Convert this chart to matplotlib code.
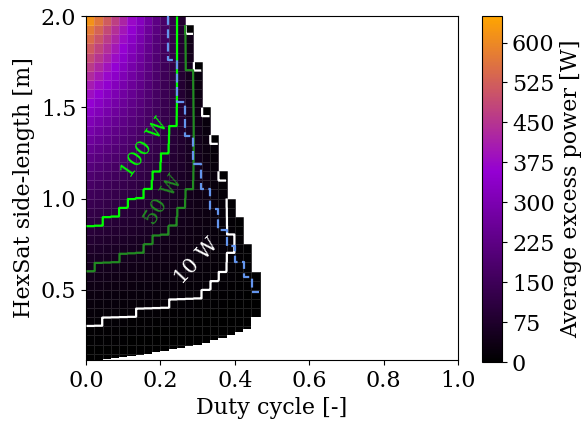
import numpy as np
import matplotlib
matplotlib.use('Agg')
import matplotlib.pyplot as plt
from matplotlib.colors import LinearSegmentedColormap, Normalize

plt.rcParams['font.family'] = 'DejaVu Serif'
plt.rcParams['mathtext.fontset'] = 'dejavuserif'

# grid edges: duty cycle steps of 1/45, side length bands of 0.05 m
duty_edges = np.arange(22) / 45.0
length_edges = np.round(np.arange(0.10, 2.0001, 0.05), 3)

# average excess power [W], one list per side-length band (bottom to top),
# starting at duty cycle 0; cells beyond the list end are not feasible
excess_power = [
    [0.5, 0.4, 0.4, 0.3, 0.3, 0.3, 0.3, 0.2, 0.2, 0.2, 0.2, 0.2, 0.2, 0.2, 0.2, 0.2, 0.2, 0.2, 0.2, 0.2, 0.2],
    [1.8, 1.6, 1.5, 1.3, 1.1, 1.0, 0.8, 0.6, 0.5, 0.3, 0.2, 0.2, 0.2, 0.2, 0.2, 0.2, 0.2, 0.2, 0.2, 0.2, 0.2],
    [4.0, 3.7, 3.3, 2.9, 2.6, 2.2, 1.9, 1.5, 1.2, 0.8, 0.4, 0.2, 0.2, 0.2, 0.2, 0.2, 0.2, 0.2, 0.2, 0.2, 0.2],
    [7.0, 6.4, 5.9, 5.3, 4.7, 4.1, 3.5, 3.0, 2.4, 1.8, 1.2, 0.6, 0.2, 0.2, 0.2, 0.2, 0.2, 0.2, 0.2, 0.2, 0.2],
    [10.9, 10.1, 9.3, 8.6, 7.8, 7.0, 6.2, 5.4, 4.6, 3.8, 3.1, 2.3, 1.5, 0.7, 0.2, 0.2, 0.2, 0.2, 0.2, 0.2, 0.2],
    [15.7, 14.8, 13.8, 12.9, 11.9, 11.0, 10.0, 9.1, 8.1, 7.2, 6.2, 5.3, 4.4, 3.4, 2.5, 1.5, 0.6, 0.2, 0.2, 0.2, 0.2],
    [21.3, 20.2, 19.1, 17.9, 16.8, 15.7, 14.5, 13.4, 12.3, 11.2, 10.0, 8.9, 7.8, 6.6, 5.5, 4.4, 3.3, 2.1, 1.0, 0.2, 0.2],
    [27.8, 26.5, 25.1, 23.8, 22.4, 21.1, 19.7, 18.4, 17.0, 15.7, 14.4, 13.0, 11.7, 10.3, 9.0, 7.6, 6.3, 4.9, 3.6, 2.3, 0.9],
    [35.2, 33.5, 31.8, 30.1, 28.4, 26.8, 25.1, 23.4, 21.7, 20.0, 18.3, 16.6, 15.0, 13.3, 11.6, 9.9, 8.2, 6.5, 4.9, 3.2, 1.5],
    [43.4, 41.3, 39.2, 37.1, 35.0, 32.9, 30.8, 28.7, 26.6, 24.5, 22.4, 20.3, 18.2, 16.2, 14.1, 12.0, 9.9, 7.8, 5.7, 3.6, 1.5],
    [52.3, 49.7, 47.2, 44.6, 42.0, 39.5, 36.9, 34.3, 31.7, 29.2, 26.6, 24.0, 21.4, 18.9, 16.3, 13.7, 11.2, 8.6, 6.0, 3.4],
    [62.1, 59.0, 55.9, 52.8, 49.7, 46.6, 43.5, 40.4, 37.3, 34.2, 31.1, 28.0, 24.9, 21.8, 18.6, 15.5, 12.4, 9.3, 6.2, 3.1],
    [72.8, 69.1, 65.4, 61.7, 58.0, 54.3, 50.6, 47.0, 43.3, 39.6, 35.9, 32.2, 28.5, 24.8, 21.2, 17.5, 13.8, 10.1, 6.4, 2.7],
    [84.3, 80.0, 75.6, 71.3, 66.9, 62.6, 58.2, 53.9, 49.5, 45.2, 40.8, 36.4, 32.1, 27.7, 23.4, 19.0, 14.7, 10.3, 6.0],
    [96.7, 91.6, 86.5, 81.4, 76.3, 71.2, 66.1, 61.0, 55.9, 50.8, 45.7, 40.6, 35.5, 30.4, 25.3, 20.2, 15.1, 10.0, 4.9],
    [110, 104, 98, 92, 86, 80, 74, 68, 62.5, 56.6, 50.6, 44.7, 38.8, 32.9, 27.0, 21.1, 15.1, 9.2, 3.3],
    [124, 117, 110, 103, 97, 90, 83, 76, 69, 62.6, 55.8, 49.0, 42.2, 35.4, 28.6, 21.8, 15.0, 8.2],
    [139, 131, 123, 115, 108, 100, 92, 84, 76, 69, 61, 53, 45, 38, 30, 22.1, 14.3, 6.5],
    [154, 146, 137, 128, 119, 110, 101, 93, 84, 75, 66, 57, 48, 40, 31, 21.8, 13.0],
    [171, 161, 151, 141, 131, 121, 111, 101, 91, 81, 71, 61, 51, 41, 31, 21.5, 11.5],
    [188, 177, 166, 155, 143, 132, 121, 110, 99, 88, 76, 65, 54, 43, 32, 20.6, 5.0],
    [206, 194, 181, 169, 156, 144, 131, 119, 106, 94, 81, 69, 56, 44, 31, 18.7],
    [225, 211, 197, 184, 170, 156, 142, 128, 114, 100, 86, 72, 58, 45, 31, 16.7],
    [245, 230, 214, 199, 183, 168, 152, 137, 122, 106, 91, 75, 60, 45, 29, 13.7],
    [266, 249, 232, 215, 198, 181, 164, 147, 130, 113, 96, 79, 62, 45, 28, 5.0],
    [287, 268, 250, 231, 212, 194, 175, 156, 137, 119, 100, 81, 63, 44, 25],
    [309, 289, 268, 248, 227, 207, 186, 166, 145, 125, 104, 84, 63, 43, 22],
    [332, 310, 287, 265, 242, 220, 197, 175, 152, 130, 107, 85, 62, 40, 5.0],
    [356, 332, 307, 282, 258, 233, 209, 184, 160, 135, 111, 86, 61, 37],
    [381, 354, 327, 300, 274, 247, 220, 193, 167, 140, 113, 86, 60, 33],
    [406, 377, 348, 319, 290, 261, 232, 203, 173, 144, 115, 86, 57, 28],
    [433, 401, 370, 338, 307, 275, 244, 212, 181, 149, 118, 86, 55, 23],
    [460, 425, 391, 357, 323, 289, 255, 221, 187, 152, 118, 84, 50, 5.0],
    [488, 451, 414, 377, 341, 304, 267, 231, 194, 157, 121, 84, 47],
    [516, 477, 437, 398, 359, 319, 280, 240, 201, 162, 122, 83, 44],
    [546, 504, 461, 419, 377, 335, 292, 250, 208, 166, 124, 81, 39],
    [576, 531, 486, 441, 396, 351, 306, 261, 216, 171, 126, 81, 5.0],
    [616, 567, 518, 469, 420, 372, 323, 274, 225, 176, 128, 79],
]

# smallest feasible side length for each duty-cycle column [m]
min_length = [0.115, 0.117, 0.12, 0.124, 0.13, 0.136, 0.143, 0.15, 0.157, 0.165,
              0.173, 0.181, 0.19, 0.2, 0.21, 0.222, 0.235, 0.25, 0.266, 0.285, 0.35]

# dashed constraint line (steps): duty cycle and side length at each step
limit_duty = [0.221, 0.244, 0.266, 0.288, 0.310, 0.332, 0.355, 0.378, 0.400, 0.425, 0.446, 0.465]
limit_length = [2.0, 1.76, 1.53, 1.34, 1.19, 1.05, 0.94, 0.83, 0.74, 0.65, 0.57, 0.49]

contour_levels = [10, 50, 100]
contour_colors = ['white', '#228b22', '#00ff00']
cbar_ticks = [0, 75, 150, 225, 300, 375, 450, 525, 600]

# table for the mesh
grid = np.full((len(length_edges) - 1, len(duty_edges) - 1), np.nan)
for i, row in enumerate(excess_power):
    grid[i, :len(row)] = row
grid = np.ma.masked_invalid(grid)

cmap = LinearSegmentedColormap.from_list(
    'excess', [(0.0, 'black'), (0.55, '#9400d3'), (1.0, '#ffa500')])
norm = Normalize(vmin=0, vmax=650)

fig = plt.figure(figsize=(5.82, 4.29), dpi=100)
ax = fig.add_axes([0.1478, 0.1608, 0.6392, 0.8019])
cax = fig.add_axes([0.828, 0.156, 0.035, 0.807])

mesh = ax.pcolormesh(duty_edges, length_edges, grid, cmap=cmap, norm=norm,
                     edgecolors=(1, 1, 1, 0.13), linewidth=0.4)

# infeasible region below the smallest side length
fill_x = np.append(duty_edges, 0.5)
fill_y = list(min_length) + [min_length[-1], min_length[-1]]
ax.fill_between(fill_x, 0, fill_y, step='post', color='white', lw=0, zorder=2)

# contour lines on the cells (nearest sampling -> staircase lines)
rep = 8
fine = np.repeat(np.repeat(grid.filled(np.nan), rep, axis=0), rep, axis=1)
xf = np.linspace(duty_edges[0], duty_edges[-1], (len(duty_edges) - 1) * rep + 1)
yf = np.linspace(length_edges[0], length_edges[-1], (len(length_edges) - 1) * rep + 1)
xc = 0.5 * (xf[:-1] + xf[1:])
yc = 0.5 * (yf[:-1] + yf[1:])
ax.contour(xc, yc, fine, levels=contour_levels, colors=contour_colors,
           linewidths=1.6, zorder=3)

ax.step(limit_duty, limit_length, where='pre', color='#6495ed', lw=1.6,
        linestyle=(0, (4, 2)), zorder=4)

ax.text(0.16, 1.28, '100 W', color='#00ff00', fontsize=15, rotation=55,
        ha='center', va='center', zorder=5)
ax.text(0.21, 0.99, '50 W', color='#228b22', fontsize=15, rotation=58,
        ha='center', va='center', zorder=5)
ax.text(0.298, 0.655, '10 W', color='white', fontsize=15, rotation=47,
        ha='center', va='center', zorder=5)

ax.set_xlim(0, 1)
ax.set_ylim(0.115, 2.0)
ax.set_xticks([0.0, 0.2, 0.4, 0.6, 0.8, 1.0])
ax.set_yticks([0.5, 1.0, 1.5, 2.0])
ax.tick_params(labelsize=16)
ax.set_xlabel('Duty cycle [-]', fontsize=16)
ax.set_ylabel('HexSat side-length [m]', fontsize=16)

cb = fig.colorbar(mesh, cax=cax, ticks=cbar_ticks)
cb.ax.tick_params(labelsize=16)
cb.set_label('Average excess power [W]', fontsize=16)

fig.savefig('out.png', dpi=100)
